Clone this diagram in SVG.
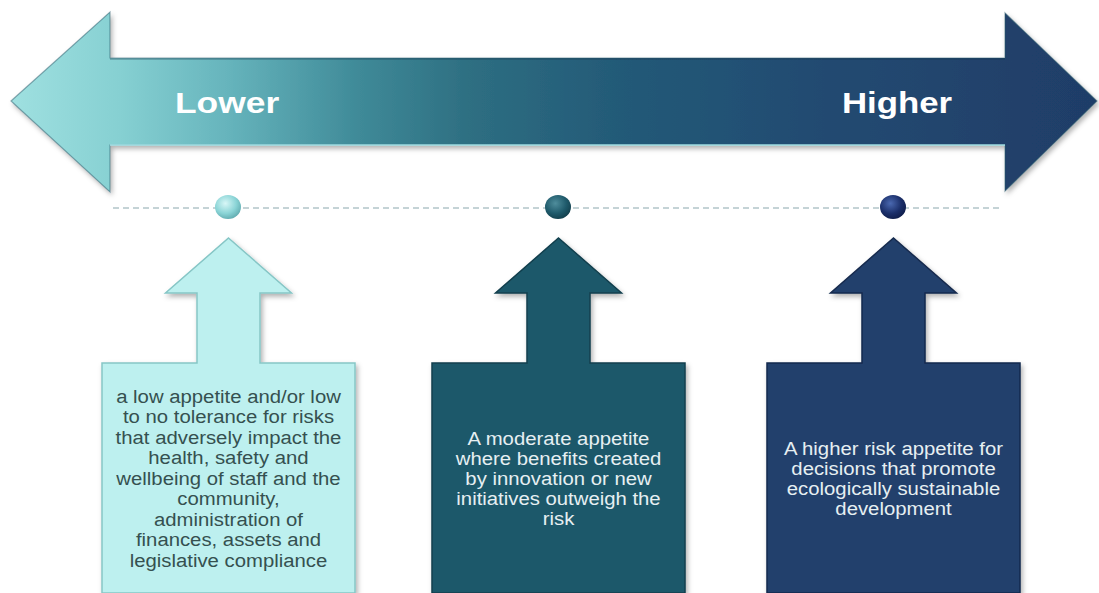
<svg xmlns="http://www.w3.org/2000/svg" width="1099" height="593" viewBox="0 0 1099 593">
<style>
.lbl{font-family:"Liberation Sans",Arial,sans-serif;font-weight:bold;font-size:30px;fill:#ffffff}
.t{font-family:"Liberation Sans",Arial,sans-serif;font-size:19px;text-anchor:middle}
.dark{fill:#355050}
.light{fill:#e6eff2}
.dash{stroke:#8aa7ad;stroke-width:1;stroke-dasharray:6 4;fill:none}
</style>
<defs>
<linearGradient id="bigGrad" gradientUnits="userSpaceOnUse" x1="11" y1="0" x2="1097" y2="0">
<stop offset="0" stop-color="#9fe0e0"/>
<stop offset="0.1" stop-color="#86d0d2"/>
<stop offset="0.2" stop-color="#66b4bc"/>
<stop offset="0.32" stop-color="#3f8a98"/>
<stop offset="0.42" stop-color="#2e6f82"/>
<stop offset="0.55" stop-color="#245b78"/>
<stop offset="0.75" stop-color="#234a71"/>
<stop offset="1" stop-color="#1f3d68"/>
</linearGradient>
<radialGradient id="dot1" cx="0.4" cy="0.35" r="0.7">
<stop offset="0" stop-color="#d8f7f7"/><stop offset="0.6" stop-color="#8ad4d6"/><stop offset="1" stop-color="#5fa9ae"/>
</radialGradient>
<radialGradient id="dot2" cx="0.4" cy="0.35" r="0.7">
<stop offset="0" stop-color="#4f8d9c"/><stop offset="0.6" stop-color="#1f5a6b"/><stop offset="1" stop-color="#123d4a"/>
</radialGradient>
<radialGradient id="dot3" cx="0.4" cy="0.35" r="0.7">
<stop offset="0" stop-color="#4a68b0"/><stop offset="0.6" stop-color="#1b2f6a"/><stop offset="1" stop-color="#0f1c48"/>
</radialGradient>
<filter id="shadow" x="-5%" y="-5%" width="110%" height="115%">
<feDropShadow dx="2" dy="3" stdDeviation="2.5" flood-color="#000" flood-opacity="0.3"/>
</filter>
</defs>

<g id="connectors">
<line class="dash" x1="113" y1="208" x2="1000" y2="208"/>
</g>

<g id="scale-arrow" filter="url(#shadow)">
<polygon points="11,101 110,12 110,58 1005,58 1005,13 1097,101 1005,191 1005,145 110,145 110,192" fill="url(#bigGrad)" stroke="#2a5a6a" stroke-opacity="0.5" stroke-width="1.2"/>
<line x1="110" y1="145" x2="1005" y2="145" stroke="#a8e6ea" stroke-width="2" stroke-opacity="0.7"/>
<line x1="110" y1="59" x2="1005" y2="59" stroke="#17344a" stroke-width="1.5" stroke-opacity="0.35"/>
</g>
<g id="label-lower">
<text class="lbl" transform="translate(175 113) scale(1.18 1)" x="0" y="0">Lower</text>
</g>
<g id="label-higher">
<text class="lbl" transform="translate(842 113) scale(1.16 1)" x="0" y="0">Higher</text>
</g>

<g id="dot-low"><ellipse cx="228" cy="207" rx="13" ry="12" fill="url(#dot1)"/></g>
<g id="dot-moderate"><ellipse cx="558" cy="207" rx="13" ry="12" fill="url(#dot2)"/></g>
<g id="dot-high"><ellipse cx="893" cy="207" rx="13" ry="12" fill="url(#dot3)"/></g>

<g id="low-appetite">
<path d="M228.5,238 L291.5,293 L260,293 L260,363 L355,363 L355,593 L102,593 L102,363 L197,363 L197,293 L165.5,293 Z" fill="#bdf0ef" stroke="#86c6c6" stroke-width="1.5" filter="url(#shadow)"/>
<g transform="translate(228.5 0) scale(1.07 1)">
<text class="t dark" x="0" y="403">a low appetite and/or low</text>
<text class="t dark" x="0" y="423.5">to no tolerance for risks</text>
<text class="t dark" x="0" y="444">that adversely impact the</text>
<text class="t dark" x="0" y="464.5">health, safety and</text>
<text class="t dark" x="0" y="485">wellbeing of staff and the</text>
<text class="t dark" x="0" y="505.5">community,</text>
<text class="t dark" x="0" y="526">administration of</text>
<text class="t dark" x="0" y="546.5">finances, assets and</text>
<text class="t dark" x="0" y="567">legislative compliance</text>
</g>
</g>

<g id="moderate-appetite">
<path d="M558.5,238 L621.5,293 L590,293 L590,363 L685,363 L685,593 L432,593 L432,363 L527,363 L527,293 L495.5,293 Z" fill="#1e596b" stroke="#123f4d" stroke-width="1.5" filter="url(#shadow)"/>
<g transform="translate(558.5 0) scale(1.07 1)">
<text class="t light" x="0" y="445">A moderate appetite</text>
<text class="t light" x="0" y="465">where benefits created</text>
<text class="t light" x="0" y="485">by innovation or new</text>
<text class="t light" x="0" y="505">initiatives outweigh the</text>
<text class="t light" x="0" y="525">risk</text>
</g>
</g>

<g id="high-appetite">
<path d="M893.5,238 L956.5,293 L925,293 L925,363 L1020,363 L1020,593 L767,593 L767,363 L862,363 L862,293 L830.5,293 Z" fill="#243f6c" stroke="#152a4d" stroke-width="1.5" filter="url(#shadow)"/>
<g transform="translate(893.5 0) scale(1.07 1)">
<text class="t light" x="0" y="455">A higher risk appetite for</text>
<text class="t light" x="0" y="475">decisions that promote</text>
<text class="t light" x="0" y="495">ecologically sustainable</text>
<text class="t light" x="0" y="515">development</text>
</g>
</g>
</svg>
